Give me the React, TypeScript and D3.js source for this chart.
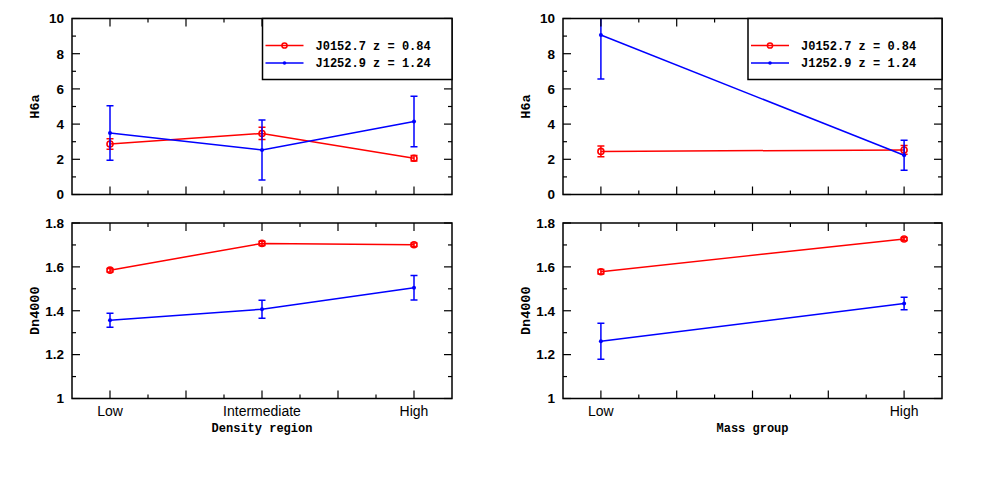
import { line, range, scaleLinear } from "d3";

const W = 981;
const H = 491;

const densityCats = ["Low", "Intermediate", "High"];
const massCats = ["Low", "High"];

// H6a values
const densH6aRed = [2.87, 3.47, 2.06];
const densH6aRedErr = [0.3, 0.35, 0.15];
const densH6aBlue = [3.49, 2.53, 4.15];
const densH6aBlueErr = [1.55, 1.7, 1.43];
const massH6aRed = [2.45, 2.53];
const massH6aRedErr = [0.3, 0.25];
const massH6aBlue = [9.06, 2.23];
const massH6aBlueErr = [2.5, 0.85];

// Dn4000 values, bottom panels
const densDnRed = [1.585, 1.707, 1.701];
const densDnRedErr = [0.008, 0.01, 0.008];
const densDnBlue = [1.357, 1.407, 1.505];
const densDnBlueErr = [0.032, 0.041, 0.056];
const massDnRed = [1.578, 1.727];
const massDnRedErr = [0.01, 0.007];
const massDnBlue = [1.261, 1.433];
const massDnBlueErr = [0.082, 0.029];

const legendNames = ["J0152.7 z = 0.84", "J1252.9 z = 1.24"];
const h6aTicks = [0, 2, 4, 6, 8, 10];
const dnTicks = [1, 1.2, 1.4, 1.6, 1.8];

const RED = "#ff0000";
const BLUE = "#0000ff";
const MONO = "'Liberation Mono', 'DejaVu Sans Mono', monospace";
const SANS = "'Liberation Sans', Arial, sans-serif";

type Series = { vals: number[]; errs: number[]; color: string; marker: "circle" | "dot" };

type PanelProps = {
  id: string;
  x0: number;
  x1: number;
  y0: number;
  y1: number;
  n: number;
  xPad: number;
  xMajor: number;
  yDomain: [number, number];
  yTicks: number[];
  yMinor: number;
  ylabel: string;
  series: Series[];
  legend?: { left: number };
  cats?: string[];
  xlabel?: string;
};

function Panel(p: PanelProps) {
  const last = p.n - 1;
  const x = scaleLinear().domain([-p.xPad, last + p.xPad]).range([p.x0, p.x1]);
  const y = scaleLinear().domain(p.yDomain).range([p.y1, p.y0]);
  const xMaj = range(0, last + 1e-9, p.xMajor);
  const xMin = range(p.xMajor / 2, last, p.xMajor);
  const yMin = range(p.yDomain[0] + p.yMinor, p.yDomain[1], p.yMinor * 2);
  const mk = line<number>()
    .x((_, i) => x(i))
    .y((v) => y(v));
  const clip = `clip-${p.id}`;

  return (
    <g>
      <defs>
        <clipPath id={clip}>
          <rect x={p.x0} y={p.y0} width={p.x1 - p.x0} height={p.y1 - p.y0} />
        </clipPath>
      </defs>
      <g clipPath={`url(#${clip})`}>
        {p.series.map((s, si) => (
          <g key={si} stroke={s.color} fill="none">
            <path d={mk(s.vals) ?? ""} strokeWidth={1.5} />
            {s.vals.map((v, i) => {
              const cx = x(i);
              const lo = y(v - s.errs[i]);
              const hi = y(v + s.errs[i]);
              return (
                <g key={i} strokeWidth={1.5}>
                  <line x1={cx} x2={cx} y1={lo} y2={hi} />
                  <line x1={cx - 3.5} x2={cx + 3.5} y1={lo} y2={lo} />
                  <line x1={cx - 3.5} x2={cx + 3.5} y1={hi} y2={hi} />
                  {s.marker === "circle" ? (
                    <circle cx={cx} cy={y(v)} r={3} strokeWidth={1.6} fill="none" />
                  ) : (
                    <circle cx={cx} cy={y(v)} r={2} fill={s.color} stroke="none" />
                  )}
                </g>
              );
            })}
          </g>
        ))}
      </g>

      {/* ticks on all sides, pointing in */}
      <g stroke="#000" strokeWidth={1.2}>
        {xMaj.map((t) => (
          <g key={`xm${t}`}>
            <line x1={x(t)} x2={x(t)} y1={p.y1} y2={p.y1 - 8} />
            <line x1={x(t)} x2={x(t)} y1={p.y0} y2={p.y0 + 8} />
          </g>
        ))}
        {xMin.map((t) => (
          <g key={`xn${t}`}>
            <line x1={x(t)} x2={x(t)} y1={p.y1} y2={p.y1 - 4} />
            <line x1={x(t)} x2={x(t)} y1={p.y0} y2={p.y0 + 4} />
          </g>
        ))}
        {p.yTicks.map((t) => (
          <g key={`ym${t}`}>
            <line x1={p.x0} x2={p.x0 + 8} y1={y(t)} y2={y(t)} />
            <line x1={p.x1} x2={p.x1 - 8} y1={y(t)} y2={y(t)} />
          </g>
        ))}
        {yMin.map((t) => (
          <g key={`yn${t}`}>
            <line x1={p.x0} x2={p.x0 + 4} y1={y(t)} y2={y(t)} />
            <line x1={p.x1} x2={p.x1 - 4} y1={y(t)} y2={y(t)} />
          </g>
        ))}
      </g>
      <rect x={p.x0} y={p.y0} width={p.x1 - p.x0} height={p.y1 - p.y0} fill="none" stroke="#000" strokeWidth={1.5} />

      {p.yTicks.map((t) => (
        <text
          key={`yl${t}`}
          x={p.x0 - 8}
          y={y(t)}
          dy="0.36em"
          textAnchor="end"
          fontFamily={SANS}
          fontWeight="bold"
          fontSize={13.5}
        >
          {t}
        </text>
      ))}
      <text
        transform={`translate(${p.x0 - 33},${(p.y0 + p.y1) / 2}) rotate(-90)`}
        textAnchor="middle"
        fontFamily={MONO}
        fontWeight="bold"
        fontSize={13.5}
      >
        {p.ylabel}
      </text>

      {p.cats &&
        p.cats.map((c, i) => (
          <text key={c} x={x(i)} y={p.y1 + 17} textAnchor="middle" fontFamily={SANS} fontSize={14}>
            {c}
          </text>
        ))}
      {p.xlabel && (
        <text
          x={(p.x0 + p.x1) / 2}
          y={p.y1 + 33}
          textAnchor="middle"
          fontFamily={MONO}
          fontWeight="bold"
          fontSize={12}
        >
          {p.xlabel}
        </text>
      )}

      {p.legend && (
        <g>
          <rect
            x={p.legend.left}
            y={p.y0}
            width={p.x1 - p.legend.left}
            height={61}
            fill="#fff"
            stroke="#000"
            strokeWidth={1.5}
          />
          {p.series.map((s, si) => {
            const ly = p.y0 + 27 + si * 17.5;
            const lx = p.legend!.left + 3;
            return (
              <g key={si}>
                <line x1={lx} x2={lx + 38} y1={ly} y2={ly} stroke={s.color} strokeWidth={1.5} />
                {s.marker === "circle" ? (
                  <circle cx={lx + 19} cy={ly} r={2.6} fill="none" stroke={s.color} strokeWidth={1.5} />
                ) : (
                  <circle cx={lx + 19} cy={ly} r={1.8} fill={s.color} />
                )}
                <text x={lx + 50} y={ly} dy="0.36em" fontFamily={MONO} fontWeight="bold" fontSize={12}>
                  {legendNames[si]}
                </text>
              </g>
            );
          })}
        </g>
      )}
    </g>
  );
}

export default function App() {
  const red = (vals: number[], errs: number[]): Series => ({ vals, errs, color: RED, marker: "circle" });
  const blue = (vals: number[], errs: number[]): Series => ({ vals, errs, color: BLUE, marker: "dot" });
  const top = { y0: 18.5, y1: 194.5 };
  const bot = { y0: 223, y1: 398.5 };
  const left = { x0: 72, x1: 452, n: 3, xPad: 0.25, xMajor: 0.5 };
  const right = { x0: 563, x1: 942, n: 2, xPad: 0.125, xMajor: 0.25 };

  return (
    <div style={{ position: "absolute", left: 0, top: 0, background: "#fff" }}>
      <svg width={W} height={H} viewBox={`0 0 ${W} ${H}`} style={{ display: "block" }}>
        <rect width={W} height={H} fill="#fff" />
        <Panel
          id="lt"
          {...left}
          {...top}
          yDomain={[0, 10]}
          yTicks={h6aTicks}
          yMinor={1}
          ylabel="H6a"
          series={[red(densH6aRed, densH6aRedErr), blue(densH6aBlue, densH6aBlueErr)]}
          legend={{ left: 262.5 }}
        />
        <Panel
          id="lb"
          {...left}
          {...bot}
          yDomain={[1, 1.8]}
          yTicks={dnTicks}
          yMinor={0.1}
          ylabel="Dn4000"
          series={[red(densDnRed, densDnRedErr), blue(densDnBlue, densDnBlueErr)]}
          cats={densityCats}
          xlabel="Density region"
        />
        <Panel
          id="rt"
          {...right}
          {...top}
          yDomain={[0, 10]}
          yTicks={h6aTicks}
          yMinor={1}
          ylabel="H6a"
          series={[red(massH6aRed, massH6aRedErr), blue(massH6aBlue, massH6aBlueErr)]}
          legend={{ left: 748 }}
        />
        <Panel
          id="rb"
          {...right}
          {...bot}
          yDomain={[1, 1.8]}
          yTicks={dnTicks}
          yMinor={0.1}
          ylabel="Dn4000"
          series={[red(massDnRed, massDnRedErr), blue(massDnBlue, massDnBlueErr)]}
          cats={massCats}
          xlabel="Mass group"
        />
      </svg>
    </div>
  );
}
